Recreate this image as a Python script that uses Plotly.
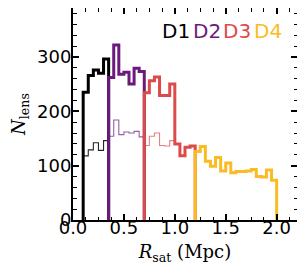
import numpy as np
import plotly.graph_objects as go

# ---- data ----
labels = ["D1", "D2", "D3", "D4"]
colors = ["#000000", "#6b1a7b", "#dd4a4a", "#fbbb25"]
thin_colors = ["rgba(0,0,0,0.85)", "rgba(107,26,123,0.7)", "rgba(221,74,74,0.7)", "rgba(251,187,37,0.7)"]
ranges = [(0.10, 0.35), (0.35, 0.70), (0.70, 1.20), (1.20, 2.00)]

# thick histograms (full sample)
n_full = [
    [235, 266, 276, 270, 296],
    [262, 322, 268, 272, 250, 279, 273],
    [234, 256, 263, 229, 229, 250, 140, 118, 134, 136],
    [126, 135, 108, 99, 115, 90, 105, 87, 89, 89, 90, 93, 80, 79, 92, 73],
]
# thin histograms (subsample)
n_sub = [
    [118, 129, 142, 128, 146],
    [154, 184, 157, 162, 160, 163, 153],
    [137, 154, 160, 137, 136, 146, 140, 118, 134, 136],
    [126, 135, 108, 99, 115, 90, 105, 87, 89, 89, 90, 93, 80, 79, 92, 73],
]

x_ticks = [0.0, 0.5, 1.0, 1.5, 2.0]
y_ticks = [0, 100, 200, 300]


def step_xy(lo, hi, vals):
    nb = len(vals)
    edges = np.linspace(lo, hi, nb + 1)
    xs = [edges[0]] + list(edges[:-1]) + [edges[-1]]
    ys = [0] + list(vals) + [0]
    return xs, ys


fig = go.Figure()

for (lo, hi), vals, c in zip(ranges, n_sub, thin_colors):
    xs, ys = step_xy(lo, hi, vals)
    fig.add_trace(go.Scatter(x=xs, y=ys, mode="lines", line=dict(color=c, width=1.1, shape="hv"),
                             showlegend=False, hoverinfo="skip"))
for (lo, hi), vals, c in zip(ranges, n_full, colors):
    xs, ys = step_xy(lo, hi, vals)
    fig.add_trace(go.Scatter(x=xs, y=ys, mode="lines", line=dict(color=c, width=3, shape="hv"),
                             showlegend=False, hoverinfo="skip"))

label_x = [0.462, 0.598, 0.733, 0.87]
for lab, c, lx in zip(labels, colors, label_x):
    fig.add_annotation(text=lab, x=lx, y=0.893, xref="paper", yref="paper",
                       showarrow=False, xanchor="center", yanchor="middle",
                       font=dict(family="DejaVu Sans", size=20, color=c))

axis_common = dict(
    showline=True, linecolor="black", linewidth=2, mirror="allticks",
    ticks="inside", ticklen=6, tickwidth=1.5, tickcolor="black",
    showgrid=False, zeroline=False, automargin=False,
    tickfont=dict(family="DejaVu Sans", size=18, color="black"),
)

fig.update_xaxes(range=[0, 2.2], tickvals=x_ticks, ticktext=[f"{v:.1f}" for v in x_ticks],
                 ticklabelstandoff=-10,
                 minor=dict(dtick=0.125, tick0=0, ticks="inside", ticklen=3.5, tickwidth=1.2, tickcolor="black"),
                 title=dict(text="<i>R</i><sub>sat</sub> (Mpc)", standoff=9,
                            font=dict(family="DejaVu Serif", size=18, color="black")),
                 **axis_common)
fig.update_yaxes(range=[0, 390], tickvals=y_ticks, ticktext=[str(v) for v in y_ticks],
                 ticklabelstandoff=-4,
                 minor=dict(dtick=20, tick0=0, ticks="inside", ticklen=3.5, tickwidth=1.2, tickcolor="black"),
                 title=dict(text="<i>N</i><sub>lens</sub>", standoff=13,
                            font=dict(family="DejaVu Serif", size=18, color="black")),
                 **axis_common)

# the page body adds an 8px offset; margins compensate so the plot area sits where the reference's does
fig.update_layout(width=297, height=263, margin=dict(l=65, r=8, t=0, b=51),
                  plot_bgcolor="white", paper_bgcolor="white")

fig.write_html("out.html")
